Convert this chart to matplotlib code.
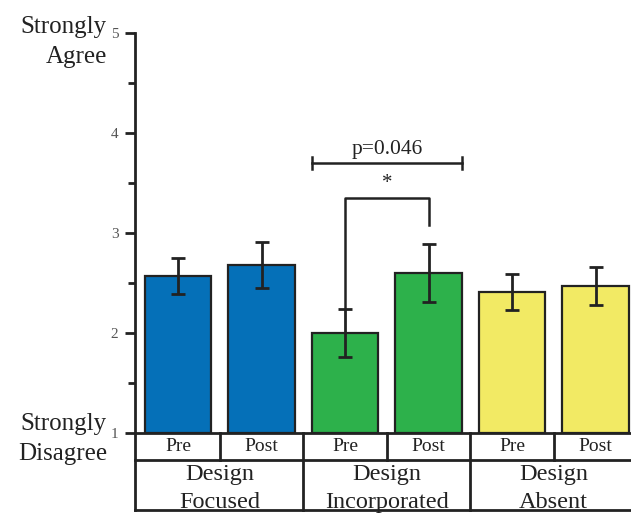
import numpy as np
import matplotlib.pyplot as plt
from matplotlib.ticker import MultipleLocator

plt.rcParams['font.family'] = ['Liberation Serif', 'DejaVu Serif']

groups = ["Design\nFocused", "Design\nIncorporated", "Design\nAbsent"]
phases = ["Pre", "Post"]
means = [2.57, 2.68, 2.00, 2.60, 2.41, 2.47]
errors = [0.18, 0.23, 0.24, 0.29, 0.18, 0.19]
colors = ["#0570b8", "#0570b8", "#2db14b", "#2db14b", "#f2ea64", "#f2ea64"]
p_label = "p=0.046"
star_label = "*"

fig = plt.figure(figsize=(6.31, 5.13), dpi=100)
ax = fig.add_axes([135 / 631, 80 / 513, 496 / 631, 400 / 513])

x = np.arange(len(means))
width = 0.8
ax.bar(x, np.array(means) - 1, bottom=1, width=width, color=colors,
       edgecolor="#222222", linewidth=1.6, zorder=2)
ax.errorbar(x, means, yerr=errors, fmt="none", ecolor="#222222",
            elinewidth=2, capsize=5, capthick=2, zorder=3)

xl, xr = -0.515, 5.425
ax.set_xlim(xl, xr)
ax.set_ylim(1, 5)
for s in ["top", "right", "bottom"]:
    ax.spines[s].set_visible(False)
ax.spines["left"].set_linewidth(2)
ax.spines["left"].set_color("#222222")
ax.set_xticks([])
ax.yaxis.set_major_locator(MultipleLocator(1))
ax.yaxis.set_minor_locator(MultipleLocator(0.5))
ax.tick_params(axis="y", which="major", length=7, width=2, color="#222222",
               labelsize=11, labelcolor="#555555", pad=5)
ax.tick_params(axis="y", which="minor", length=5, width=2, color="#222222")

# table under the bars
line_kw = dict(color="#222222", lw=2, clip_on=False)
row1, row2 = 0.73, 0.23
ax.plot([xl, xr], [1, 1], **line_kw)
ax.plot([xl, xr], [row1, row1], **line_kw)
ax.plot([xl, xr], [row2, row2], **line_kw)
ax.plot([xl, xl], [1, row2], **line_kw)
for i in range(len(means) - 1):
    bottom = row2 if i % 2 else row1
    ax.plot([i + 0.5, i + 0.5], [1, bottom], **line_kw)
for i in x:
    ax.text(i, 0.865, phases[i % 2], ha="center", va="center", fontsize=14,
            color="#222222")
for g, name in enumerate(groups):
    ax.text(2 * g + 0.5, 0.445, name, ha="center", va="center", fontsize=17.5,
            color="#222222", linespacing=1.38)

# significance brackets
y_outer = 3.70
ax.plot([2 - width / 2, 3 + width / 2], [y_outer, y_outer], color="#222222", lw=1.8)
for xe in [2 - width / 2, 3 + width / 2]:
    ax.plot([xe, xe], [y_outer - 0.06, y_outer + 0.06], color="#222222", lw=1.8)
ax.text(2.5, y_outer + 0.04, p_label, ha="center", va="bottom", fontsize=15.5,
        color="#222222")
y_inner = 3.35
ax.plot([2, 2, 3, 3], [means[2] + errors[2], y_inner, y_inner, 3.08],
        color="#222222", lw=1.8)
ax.text(2.5, y_inner + 0.05, star_label, ha="center", va="bottom", fontsize=15,
        color="#222222")

# axis end labels
fig.text(107 / 631, 1 - 42 / 513, "Strongly\nAgree", ha="right", va="center",
         fontsize=18, color="#222222", linespacing=1.5)
fig.text(107 / 631, 1 - 439 / 513, "Strongly\nDisagree", ha="right", va="center",
         fontsize=18, color="#222222", linespacing=1.45)

fig.savefig("out.png", dpi=100)
